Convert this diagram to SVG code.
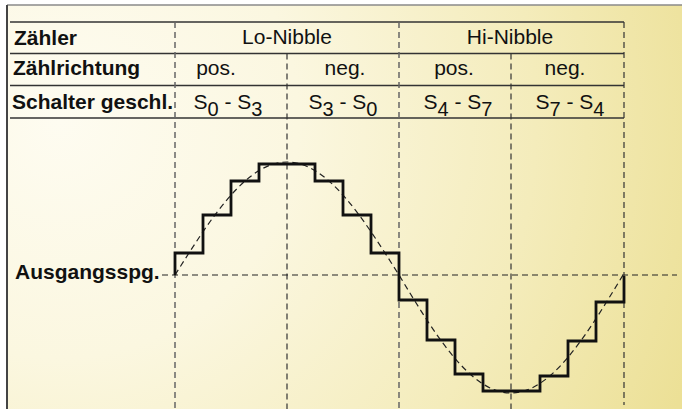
<svg xmlns="http://www.w3.org/2000/svg" width="682" height="409" viewBox="0 0 682 409">
<defs>
<radialGradient id="bg" gradientUnits="userSpaceOnUse" cx="60" cy="120" r="680">
<stop offset="0" stop-color="#fefcf1"/>
<stop offset="0.35" stop-color="#fbf7e0"/>
<stop offset="0.7" stop-color="#f4ecbb"/>
<stop offset="1" stop-color="#ece096"/>
</radialGradient>
<style>
.lbl{font-family:"Liberation Sans",Arial,sans-serif;font-size:21px;font-weight:bold;fill:#111}
.txt{font-family:"Liberation Sans",Arial,sans-serif;font-size:21px;fill:#111;text-anchor:middle}
.sub{font-size:20px}
.row{stroke:#333;stroke-width:1.4;fill:none}
.vg{stroke:#333;stroke-width:1.2;stroke-dasharray:6 4;fill:none}
.vg2{stroke:#666;stroke-width:1.5;stroke-dasharray:6 4;fill:none}
.zero{stroke:#222;stroke-width:1.2;stroke-dasharray:6 4;fill:none}
.sine{stroke:#222;stroke-width:1.2;stroke-dasharray:6 4;fill:none}
.stair{stroke:#111;stroke-width:2.8;fill:none;stroke-linejoin:miter}
</style>
</defs>
<rect x="0" y="0" width="682" height="409" fill="#ffffff"/>
<rect x="7" y="5" width="675" height="404" fill="url(#bg)"/>
<line x1="7" y1="5" x2="682" y2="5" stroke="#8a8a8a" stroke-width="1.5"/>
<line x1="7" y1="5" x2="7" y2="409" stroke="#444" stroke-width="2"/>

<g id="table">
<line class="row" x1="10" y1="22" x2="624" y2="22"/>
<line class="row" x1="10" y1="53.5" x2="624" y2="53.5"/>
<line class="row" x1="10" y1="85.5" x2="624" y2="85.5"/>
<line class="row" x1="10" y1="118" x2="624" y2="118"/>
</g>

<g id="grid">
<line class="vg2" x1="175" y1="22" x2="175" y2="409"/>
<line class="vg" x1="287" y1="53.5" x2="287" y2="409"/>
<line class="vg2" x1="399" y1="22" x2="399" y2="409"/>
<line class="vg" x1="511" y1="53.5" x2="511" y2="409"/>
<line class="vg" x1="624" y1="22" x2="624" y2="405"/>
<line class="zero" x1="162" y1="275" x2="677" y2="275"/>
</g>

<g id="labels">
<text class="lbl" x="14" y="45">Zähler</text>
<text class="lbl" x="13" y="75">Zählrichtung</text>
<text class="lbl" x="12" y="109">Schalter geschl.</text>
<text class="lbl" x="15" y="279">Ausgangsspg.</text>
</g>

<g id="header">
<text class="txt" x="287" y="44">Lo-Nibble</text>
<text class="txt" x="510" y="44">Hi-Nibble</text>
<text class="txt" x="216" y="75">pos.</text>
<text class="txt" x="345" y="75">neg.</text>
<text class="txt" x="454" y="75">pos.</text>
<text class="txt" x="565" y="75">neg.</text>
<text class="txt" x="228" y="109">S<tspan class="sub" dy="7">0</tspan><tspan dy="-7"> - S</tspan><tspan class="sub" dy="7">3</tspan></text>
<text class="txt" x="343" y="109">S<tspan class="sub" dy="7">3</tspan><tspan dy="-7"> - S</tspan><tspan class="sub" dy="7">0</tspan></text>
<text class="txt" x="458" y="109">S<tspan class="sub" dy="7">4</tspan><tspan dy="-7"> - S</tspan><tspan class="sub" dy="7">7</tspan></text>
<text class="txt" x="570" y="109">S<tspan class="sub" dy="7">7</tspan><tspan dy="-7"> - S</tspan><tspan class="sub" dy="7">4</tspan></text>
</g>

<g id="connectors">
<path id="sine" class="sine" d="M175,275 C211.5,217.1 246.5,162 287,162 S362.5,217.1 399,275 C435.5,335.4 470.5,393 511,393 S586.5,335.4 623,275"/>
<path id="staircase" class="stair" d="M175,275 V253 H203 V215 H231 V181 H259 V164 H315 V181 H343 V215 H371 V253 H399 V300 H427 V340 H455 V374 H483 V391 H540 V376 H568 V341 H596 V302 H624 V276"/>
</g>
</svg>
